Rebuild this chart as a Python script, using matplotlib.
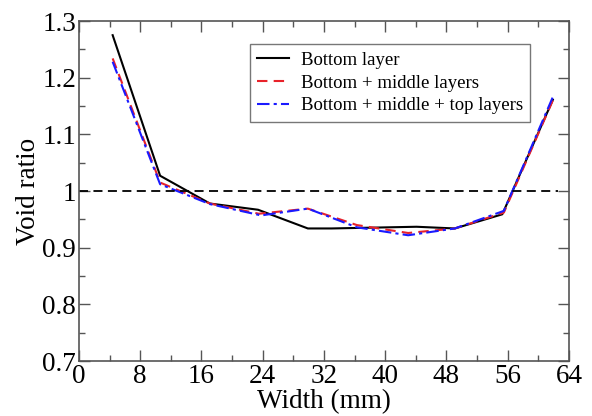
import matplotlib
matplotlib.use("Agg")
import matplotlib.pyplot as plt
from matplotlib.ticker import MultipleLocator

# Void ratio across the specimen width for each layer combination
width_bottom = [4.4, 10.6, 17.1, 23.4, 29.9, 33.0, 44.1, 49.1, 55.3, 61.9]
void_bottom = [1.275, 1.027, 0.978, 0.967, 0.934, 0.934, 0.937, 0.934, 0.959, 1.161]

width_mid = [4.4, 10.6, 17.1, 23.5, 29.9, 36.3, 43.0, 49.1, 55.5, 61.9]
void_mid = [1.234, 1.015, 0.978, 0.960, 0.969, 0.940, 0.926, 0.934, 0.962, 1.160]

width_top = [4.4, 10.6, 17.1, 23.8, 29.9, 36.3, 43.0, 49.1, 55.5, 62.0]
void_top = [1.228, 1.012, 0.977, 0.957, 0.969, 0.936, 0.922, 0.934, 0.965, 1.169]

plt.rcParams['font.family'] = ['Liberation Serif', 'DejaVu Serif']

fig = plt.figure(figsize=(5.92, 4.16), dpi=100)
ax = fig.add_axes([0.1334, 0.132, 0.8276, 0.8175])

ax.plot(width_bottom, void_bottom, color='black', lw=1.5, label='Bottom layer')
ax.plot(width_mid, void_mid, color='#e8222a', lw=1.5, ls=(0, (5, 3)),
        label='Bottom + middle layers')
ax.plot(width_top, void_top, color='#1a1aff', lw=1.5, ls=(0, (6, 2, 1.5, 2)),
        label='Bottom + middle + top layers')
ax.hlines(1.0, 0, 62.6, colors='black', lw=1.3, linestyles=(0, (5, 3)))

ax.set_xlim(0, 64)
ax.set_ylim(0.7, 1.3)
ax.xaxis.set_major_locator(MultipleLocator(8))
ax.xaxis.set_minor_locator(MultipleLocator(4))
ax.yaxis.set_major_locator(MultipleLocator(0.1))
ax.yaxis.set_minor_locator(MultipleLocator(0.05))
ax.set_yticks([0.7, 0.8, 0.9, 1.0, 1.1, 1.2, 1.3])
ax.set_yticklabels(['0.7', '0.8', '0.9', '1', '1.1', '1.2', '1.3'])

ax.tick_params(which='both', direction='in', top=True, right=True,
               color='#555555', labelsize=19.5, pad=2)
ax.tick_params(which='major', length=8, width=1)
ax.tick_params(which='minor', length=4, width=1)
for s in ax.spines.values():
    s.set_color('#555555')
    s.set_linewidth(1.2)

ax.set_xlabel('Width (mm)', fontsize=19.5)
ax.set_ylabel('Void ratio', fontsize=19.5)
ax.xaxis.set_label_coords(0.501, -0.083)
ax.yaxis.set_label_coords(-0.078, 0.5)

leg = ax.legend(loc='upper left', bbox_to_anchor=(0.349, 0.932), fontsize=13.5,
                frameon=True, fancybox=False, edgecolor='#555555',
                handlelength=1.7, handletextpad=0.6, borderpad=0.4,
                labelspacing=0.3, borderaxespad=0)
leg.get_frame().set_linewidth(1.0)

fig.savefig('out.png', dpi=100)
